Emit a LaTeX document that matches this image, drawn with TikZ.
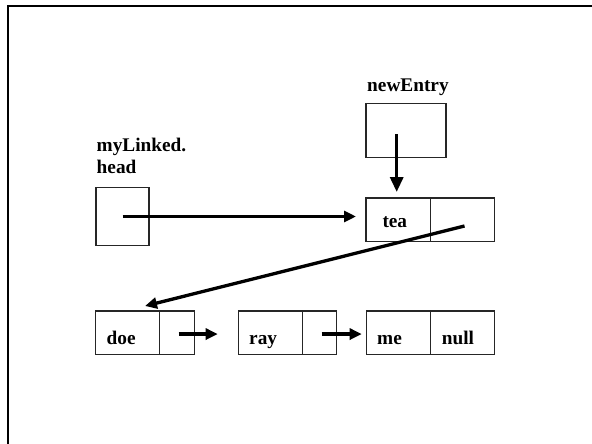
\documentclass[tikz,border=0pt]{standalone}
\usepackage{fontspec}
\setmainfont{Liberation Serif}
\usetikzlibrary{arrows.meta}
\begin{document}
\begin{tikzpicture}[x=1pt,y=-1pt,
  cell/.style={draw=black!85, line width=1.1pt, minimum height=43.5pt,
               inner sep=0pt, outer sep=0pt, anchor=north west},
  lbl/.style={font=\fontsize{19.3}{22.5}\selectfont\bfseries, inner sep=0pt, anchor=base west},
  ptr/.style={line width=3.3pt, -{Triangle[length=12pt,width=11pt]}},
  bigptr/.style={line width=3.3pt, -{Triangle[length=15pt,width=13pt]}},
]
\clip (0,0) rectangle (592,444);

% page frame, running off the right and bottom edges
\draw[line width=2.8pt, line join=miter] (8,460) -- (8,6) -- (610,6);

% pointer variables
\node[cell, minimum width=53pt, minimum height=58pt] (head) at (96,187.5) {};
\node[cell, minimum width=80pt, minimum height=54pt] (newbox) at (366,103.5) {};
\node[lbl] (t-new) at (367,91.7) {newEntry};
\node[lbl] (t-head1) at (96.5,151) {myLinked.};
\node[lbl] (t-head2) at (96.5,173.5) {head};

% new list node
\node[cell, minimum width=64.7pt] (teaL) at (366,198) {};
\node[cell, minimum width=63.6pt] (teaR) at (teaL.north east) {};
\node[lbl] (t-tea) at (382.3,227) {tea};

% existing list
\node[cell, minimum width=64pt] (doeL) at (95.5,311) {};
\node[cell, minimum width=35pt] (doeP) at (doeL.north east) {};
\node[cell, minimum width=64pt] (rayL) at (238.5,311) {};
\node[cell, minimum width=34pt] (rayP) at (rayL.north east) {};
\node[cell, minimum width=64.2pt] (meL) at (366.5,311) {};
\node[cell, minimum width=63.8pt] (meR) at (meL.north east) {};
\node[lbl] (t-doe) at (106.5,344) {doe};
\node[lbl] (t-ray) at (249,344) {ray};
\node[lbl] (t-me) at (377,344) {me};
\node[lbl] (t-null) at (441.7,344) {null};

% links
\coordinate (nsrc) at (396.7,134);
\coordinate (tsrc) at (464.5,226);
\coordinate (dtip) at (145,306);
\draw[ptr] (head.center) -- (head.center -| teaL.west) [shorten >=10pt];
\draw[bigptr, shorten >=6pt] (nsrc) -- (nsrc |- teaL.north);
\draw[ptr] (tsrc) -- (dtip);
\draw[ptr, shorten >=20.8pt] ([xshift=1.5pt,yshift=-1.3pt]doeP.center) -- ([yshift=-1.3pt]doeP.center -| rayL.west);
\draw[ptr, shorten >=4.8pt] ([xshift=2pt,yshift=-1.3pt]rayP.center) -- ([yshift=-1.3pt]rayP.center -| meL.west);
\end{tikzpicture}
\end{document}
